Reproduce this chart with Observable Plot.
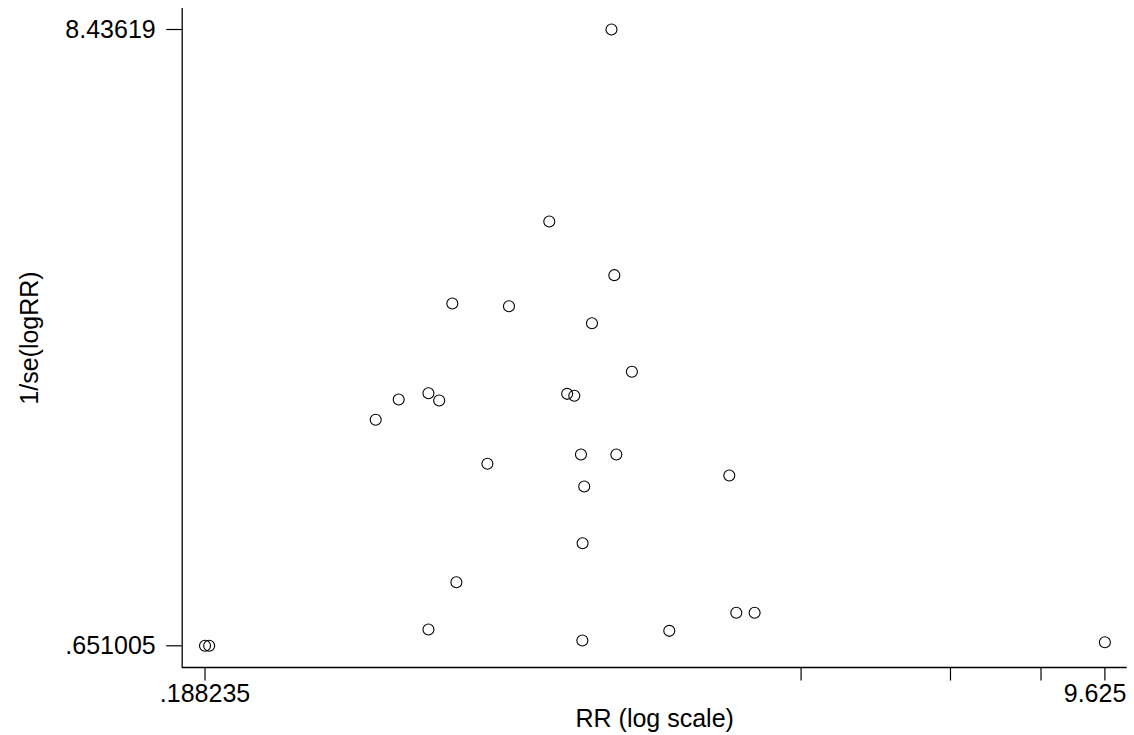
<!DOCTYPE html>
<html>
<head>
<meta charset="utf-8">
<script src="https://cdn.jsdelivr.net/npm/d3@7"></script>
<script src="https://cdn.jsdelivr.net/npm/@observablehq/plot@0.6"></script>
<style>
  html, body { margin: 0; padding: 0; background: #fff; }
</style>
</head>
<body>
<div id="chart"></div>
<script>
// Relative risk (x, log scale) and precision 1/se(logRR) (y) per study
const rr = [
  1.113, 0.848, 1.127, 0.555, 0.711, 1.022, 1.217, 0.917, 0.946,
  0.500, 0.439, 0.524, 0.397, 0.647, 0.974, 1.137, 1.863, 0.988,
  0.981, 0.565, 1.921, 2.081, 0.500, 1.433, 0.980, 0.188235, 0.1917, 9.625
];
const invSe = [
  8.43619, 6.011, 5.333, 4.975, 4.941, 4.726, 4.112, 3.834, 3.809,
  3.842, 3.762, 3.750, 3.506, 2.950, 3.068, 3.068, 2.802, 2.663,
  1.947, 1.454, 1.068, 1.068, 0.857, 0.840, 0.718, 0.651005, 0.651005, 0.696
];

// Axis ticks
const xTickValues = [0.188235, 2.55, 4.9, 7.28, 9.625];
const xLabelValues = [0.188235, 9.625];
const xLabelTexts = [".188235", "9.625"];
const yTickValues = [0.651005, 8.43619];
const yTickLabels = [".651005", "8.43619"];

const xTitle = "RR (log scale)";
const yTitle = "1/se(logRR)";

const data = rr.map((d, i) => ({rr: d, p: invSe[i]}));
const xDomain = [0.17037, 10.611];
const yDomain = [0.3769, 8.7015];

const chart = Plot.plot({
  width: 1134,
  height: 735,
  marginLeft: 181.7,
  marginRight: 7.3,
  marginTop: 8,
  marginBottom: 68,
  style: {
    fontFamily: "'Liberation Sans', Arial, Helvetica, sans-serif",
    fontSize: "25px",
    background: "#ffffff",
    color: "#000000"
  },
  x: {type: "log", domain: xDomain},
  y: {type: "linear", domain: yDomain},
  marks: [
    Plot.ruleX([xDomain[0]], {stroke: "#000", strokeWidth: 1.3}),
    Plot.ruleY([yDomain[0]], {stroke: "#000", strokeWidth: 1.3}),
    Plot.axisX({
      ticks: xTickValues,
      tickSize: 13.5,
      tickFormat: () => "",
      strokeWidth: 1.2,
      label: null
    }),
    Plot.axisY({
      ticks: yTickValues,
      tickSize: 15.5,
      tickPadding: 11,
      tickFormat: d => yTickLabels[yTickValues.indexOf(d)],
      fontSize: 25,
      strokeWidth: 1.2,
      label: null
    }),
    Plot.text([xLabelTexts[0]], {
      x: [xLabelValues[0]],
      text: d => d,
      frameAnchor: "bottom",
      lineAnchor: "top",
      dy: 16.3,
      fontSize: 25,
      fill: "#000"
    }),
    Plot.text([xLabelTexts[1]], {
      x: [xLabelValues[1]],
      text: d => d,
      frameAnchor: "bottom",
      lineAnchor: "top",
      textAnchor: "end",
      dx: 21.4,
      dy: 16.3,
      fontSize: 25,
      fill: "#000"
    }),
    Plot.text([xTitle], {
      frameAnchor: "bottom",
      lineAnchor: "top",
      textAnchor: "middle",
      dy: 41.3,
      fontSize: 25,
      fill: "#000"
    }),
    Plot.text([yTitle], {
      frameAnchor: "left",
      textAnchor: "middle",
      lineAnchor: "middle",
      rotate: -90,
      dx: -152,
      fontSize: 25,
      fill: "#000"
    }),
    Plot.dot(data, {
      x: "rr",
      y: "p",
      r: 5.5,
      stroke: "#000",
      strokeWidth: 1.1,
      fill: "none"
    })
  ]
});

document.getElementById("chart").appendChild(chart);
</script>
</body>
</html>
